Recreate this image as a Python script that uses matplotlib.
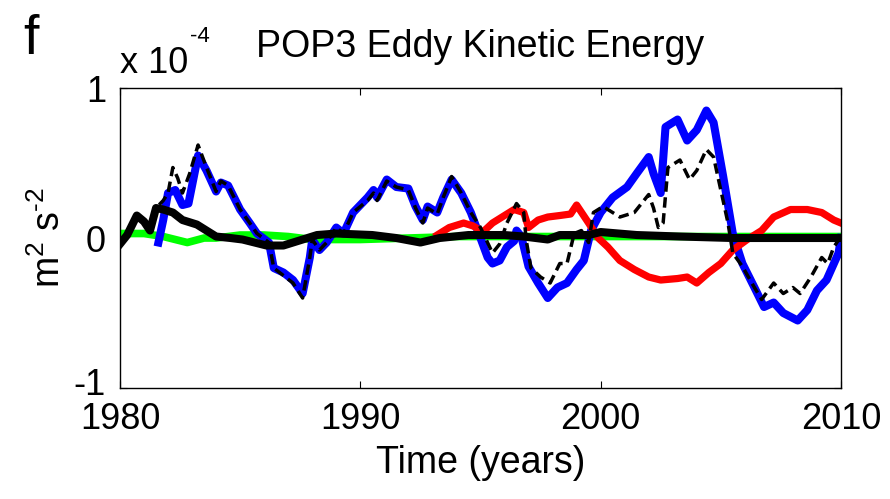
import matplotlib
matplotlib.use("Agg")
import matplotlib.pyplot as plt
from matplotlib.transforms import ScaledTranslation

plt.rcParams['font.family'] = ['Liberation Sans', 'DejaVu Sans']
plt.rcParams['mathtext.fontset'] = 'custom'
plt.rcParams['mathtext.rm'] = 'Liberation Sans'
plt.rcParams['axes.unicode_minus'] = False

# values in units of 1e-4 m^2 s^-2
blue_years = [1981.6, 1981.8, 1982.0, 1982.3, 1982.6, 1982.85, 1983.25, 1983.6, 1984.0, 1984.2,
              1984.5, 1985.0, 1985.4, 1985.7, 1986.2, 1986.4, 1986.8, 1987.2, 1987.6, 1987.9,
              1988.0, 1988.3, 1988.6, 1989.0, 1989.3, 1989.7, 1990.3, 1990.55, 1990.7, 1991.1,
              1991.5, 1992.0, 1992.3, 1992.6, 1992.8, 1993.2, 1993.45, 1993.8, 1994.2, 1994.6,
              1995.0, 1995.3, 1995.5, 1995.8, 1996.1, 1996.4, 1996.5, 1996.7, 1997.0, 1997.4,
              1997.8, 1998.2, 1998.6, 1999.0, 1999.3, 1999.6, 2000.0, 2000.5, 2001.1, 2001.5,
              2002.0, 2002.2, 2002.5, 2002.7, 2003.2, 2003.6, 2004.0, 2004.4, 2004.7, 2005.1,
              2005.5, 2005.9, 2006.4, 2006.8, 2007.2, 2007.6, 2008.2, 2008.6, 2009.0, 2009.4,
              2009.9, 2010.0]
blue_vals = [-0.03, 0.12, 0.30, 0.32, 0.22, 0.23, 0.55, 0.45, 0.31, 0.37,
             0.35, 0.19, 0.10, 0.03, -0.03, -0.20, -0.23, -0.28, -0.37, -0.13,
             -0.01, -0.08, -0.03, 0.07, 0.03, 0.17, 0.27, 0.32, 0.27, 0.39,
             0.34, 0.33, 0.21, 0.12, 0.21, 0.17, 0.27, 0.39, 0.30, 0.17,
             0.00, -0.13, -0.17, -0.15, -0.06, -0.02, 0.05, 0.01, -0.19, -0.30,
             -0.40, -0.33, -0.30, -0.21, -0.15, 0.05, 0.17, 0.27, 0.34, 0.43,
             0.54, 0.43, 0.30, 0.74, 0.79, 0.65, 0.72, 0.85, 0.77, 0.41,
             0.03, -0.17, -0.33, -0.46, -0.43, -0.50, -0.55, -0.48, -0.35, -0.28,
             -0.10, 0.00]

dash_years = [1980.0, 1980.4, 1980.7, 1981.0, 1981.25, 1981.5, 1981.8, 1982.0, 1982.2, 1982.4,
              1982.6, 1982.9, 1983.25, 1983.6, 1984.0, 1984.2, 1984.5, 1985.0, 1985.4, 1985.7,
              1986.2, 1986.4, 1986.8, 1987.2, 1987.6, 1987.9, 1988.0, 1988.3, 1988.6, 1989.0,
              1989.3, 1989.7, 1990.3, 1990.55, 1990.7, 1991.1, 1991.5, 1992.0, 1992.3, 1992.6,
              1992.8, 1993.2, 1993.45, 1993.8, 1994.2, 1994.6, 1995.0, 1995.5, 1995.8, 1996.1,
              1996.5, 1996.8, 1996.9, 1997.1, 1997.5, 1997.9, 1998.3, 1998.6, 1998.9, 1999.2,
              1999.5, 1999.7, 2000.1, 2000.8, 2001.4, 2002.0, 2002.2, 2002.4, 2002.6, 2002.8,
              2003.3, 2003.7, 2004.0, 2004.4, 2004.7, 2005.0, 2005.3, 2005.5, 2005.9, 2006.4,
              2006.7, 2007.2, 2007.6, 2008.0, 2008.3, 2008.75, 2009.2, 2009.45, 2009.7, 2010.0]
dash_vals = [-0.03, 0.05, 0.15, 0.10, 0.05, 0.20, 0.25, 0.30, 0.47, 0.40,
             0.30, 0.43, 0.62, 0.47, 0.31, 0.38, 0.35, 0.19, 0.10, 0.03,
             -0.03, -0.20, -0.25, -0.30, -0.40, -0.13, -0.01, -0.08, -0.03, 0.07,
             0.03, 0.17, 0.25, 0.30, 0.25, 0.38, 0.34, 0.32, 0.20, 0.10,
             0.20, 0.16, 0.27, 0.41, 0.30, 0.17, 0.07, -0.10, -0.04, 0.10,
             0.23, 0.17, -0.01, -0.20, -0.26, -0.30, -0.17, -0.17, 0.03, 0.05,
             -0.03, 0.17, 0.21, 0.14, 0.17, 0.29, 0.20, 0.07, 0.10, 0.47,
             0.52, 0.39, 0.45, 0.59, 0.54, 0.32, 0.10, -0.10, -0.19, -0.33,
             -0.41, -0.30, -0.37, -0.33, -0.37, -0.26, -0.13, -0.17, -0.06, 0.01]

red_years = [1993.2, 1993.7, 1994.3, 1994.7, 1995.1, 1995.5, 1996.0, 1996.4, 1996.8, 1997.0,
             1997.4, 1997.8, 1998.3, 1998.75, 1999.0, 1999.25, 1999.5, 1999.9, 2000.3, 2000.8,
             2001.4, 2002.0, 2002.5, 2003.2, 2003.6, 2004.0, 2004.5, 2005.0, 2005.5, 2006.1,
             2006.7, 2007.2, 2007.9, 2008.6, 2009.2, 2009.7, 2010.0]
red_vals = [0.02, 0.07, 0.10, 0.08, 0.04, 0.10, 0.15, 0.19, 0.17, 0.07,
            0.12, 0.14, 0.15, 0.16, 0.22, 0.16, 0.10, 0.00, -0.06, -0.15,
            -0.21, -0.26, -0.28, -0.27, -0.26, -0.30, -0.23, -0.17, -0.08, -0.01,
            0.05, 0.14, 0.19, 0.19, 0.17, 0.12, 0.10]

green_years = [1980.0, 1981.0, 1981.8, 1982.8, 1983.5, 1984.0, 1985.0, 1986.0, 1987.0, 1988.0,
               1990.0, 1992.0, 1994.0, 1996.0, 1998.0, 2000.0, 2004.0, 2008.0, 2010.0]
green_vals = [0.03, 0.03, 0.01, -0.03, 0.00, 0.00, 0.02, 0.02, 0.01, -0.01,
              -0.01, 0.00, 0.01, 0.01, 0.01, 0.01, 0.01, 0.01, 0.01]

black_years = [1980.0, 1980.3, 1980.7, 1981.0, 1981.25, 1981.5, 1981.8, 1982.2, 1982.6, 1983.2,
               1983.6, 1984.0, 1984.6, 1985.1, 1986.1, 1986.8, 1987.6, 1988.2, 1989.0, 1990.5,
               1991.5, 1992.5, 1993.3, 1994.5, 1996.0, 1996.8, 1997.8, 1998.3, 1999.5, 2000.0,
               2001.5, 2003.3, 2005.5, 2010.0]
black_vals = [-0.04, 0.02, 0.15, 0.11, 0.05, 0.20, 0.19, 0.17, 0.12, 0.09,
              0.05, 0.01, 0.00, -0.01, -0.05, -0.05, -0.01, 0.02, 0.03, 0.02,
              0.00, -0.03, 0.00, 0.02, 0.02, 0.01, -0.01, 0.02, 0.02, 0.04,
              0.02, 0.01, 0.00, 0.00]

fig = plt.figure(figsize=(8.9, 4.99), dpi=100)
ax = fig.add_axes([0.1348, 0.2224, 0.8101, 0.6012])

ax.plot(green_years, green_vals, color='#00ff00', lw=5.5)
ax.plot(blue_years, blue_vals, color='#0000ff', lw=5.8)
ax.plot(red_years, red_vals, color='#ff0000', lw=5.2)
ax.plot(black_years, black_vals, color='black', lw=5.8)
ax.plot(dash_years, dash_vals, color='black', lw=2.5, dashes=(3, 1.6))

ax.set_xlim(1980, 2010)
ax.set_ylim(-1, 1)
ax.set_xticks([1980, 1990, 2000, 2010])
ax.set_yticks([-1, 0, 1])
ax.tick_params(direction='in', length=5, labelsize=26, top=True, right=True, pad=10)
ax.tick_params(axis='y', pad=10)
for s in ax.spines.values():
    s.set_linewidth(1.0)

# nudge the lowest y label up so it clears the first year label
low = ax.get_yticklabels()[0]
low.set_transform(low.get_transform() + ScaledTranslation(0, 5 / 72, fig.dpi_scale_trans))

ax.set_xlabel('Time (years)', fontsize=27, labelpad=6)
ax.set_ylabel(r'm$^2$ s$^{\text{-2}}$', fontsize=27, labelpad=4)
ax.set_title('POP3 Eddy Kinetic Energy', fontsize=27, pad=22)

fig.text(0.135, 0.853, 'x 10', fontsize=26)
fig.text(0.213, 0.915, '-4', fontsize=16)
fig.text(0.026, 0.892, 'f', fontsize=40)

fig.savefig('out.png', dpi=100)
